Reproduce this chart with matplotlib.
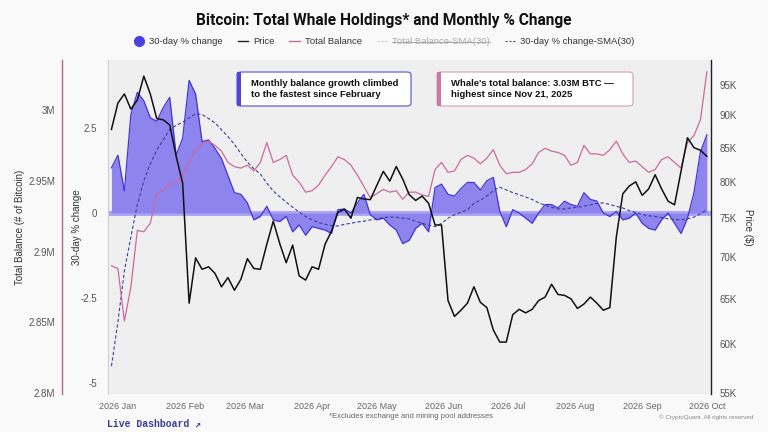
import pandas as pd
import matplotlib.pyplot as plt
from matplotlib.lines import Line2D
from matplotlib.patches import FancyBboxPatch, Rectangle
from matplotlib.ticker import FixedLocator, FixedFormatter, NullLocator
import matplotlib.dates as mdates

plt.rcParams['font.family'] = ['Liberation Sans', 'DejaVu Sans']

# data, one point every 3 days from 2025-12-29
dates = pd.date_range('2025-12-29', periods=93, freq='3D')

pct_change = [1.33, 1.7, 0.65, 2.9, 3.55, 3.3, 2.8, 2.7, 3.1, 3.4,
              1.7, 2.2, 3.9, 3.5, 2.1, 2.15, 1.9, 1.6, 1.1, 0.6,
              0.55, 0.3, -0.2, -0.1, 0.2, -0.2, -0.25, -0.1, -0.55, -0.35,
              -0.65, -0.4, -0.45, -0.5, -0.6, 0.1, 0.12, 0.0, 0.3, 0.55,
              -0.05, -0.2, -0.15, -0.35, -0.5, -0.9, -0.8, -0.45, -0.3, -0.55,
              0.75, 0.85, 0.55, 0.5, 0.72, 0.9, 0.9, 0.68, 0.95, 1.05,
              0.05, -0.4, 0.1, 0.0, -0.15, -0.3, 0.0, 0.25, 0.25, 0.15,
              0.35, 0.25, 0.2, 0.6, 0.4, 0.35, 0.0, -0.1, 0.05, -0.2,
              -0.15, 0.0, -0.3, -0.45, -0.5, -0.2, 0.0, -0.3, -0.6, -0.15,
              0.6, 1.8, 2.3]

pct_sma = [-4.5, -3.2, -1.7, -0.7, 0.25, 0.95, 1.45, 1.85, 2.15, 2.45,
           2.58, 2.67, 2.8, 2.92, 2.9, 2.78, 2.65, 2.45, 2.25, 2.02,
           1.75, 1.5, 1.3, 1.15, 0.88, 0.65, 0.48, 0.32, 0.17, 0.03,
           -0.1, -0.2, -0.28, -0.33, -0.37, -0.38, -0.33, -0.3, -0.26, -0.24,
           -0.2, -0.17, -0.13, -0.12, -0.12, -0.15, -0.17, -0.24, -0.3, -0.36,
           -0.4, -0.3, -0.15, -0.05, 0.02, 0.1, 0.28, 0.38, 0.5, 0.66,
           0.76, 0.68, 0.6, 0.54, 0.47, 0.4, 0.3, 0.23, 0.17, 0.12,
           0.12, 0.15, 0.17, 0.2, 0.24, 0.28, 0.3, 0.25, 0.2, 0.15,
           0.07, 0.02, -0.04, -0.08, -0.1, -0.13, -0.17, -0.19, -0.2, -0.17,
           -0.12, -0.02, 0.1]

# total balance, millions of BTC
balance = [2.890, 2.888, 2.851, 2.875, 2.915, 2.914, 2.920, 2.941, 2.943, 2.948,
           2.948, 2.954, 2.963, 2.972, 2.976, 2.978, 2.975, 2.971, 2.963, 2.960,
           2.959, 2.961, 2.957, 2.963, 2.977, 2.963, 2.965, 2.968, 2.954, 2.949,
           2.942, 2.943, 2.947, 2.954, 2.960, 2.967, 2.965, 2.961, 2.954, 2.946,
           2.938, 2.941, 2.944, 2.942, 2.943, 2.937, 2.942, 2.942, 2.940, 2.939,
           2.958, 2.963, 2.956, 2.957, 2.965, 2.968, 2.966, 2.962, 2.966, 2.972,
           2.961, 2.955, 2.956, 2.956, 2.958, 2.962, 2.970, 2.973, 2.971, 2.970,
           2.968, 2.961, 2.963, 2.975, 2.969, 2.969, 2.968, 2.972, 2.978, 2.969,
           2.963, 2.964, 2.960, 2.956, 2.958, 2.965, 2.967, 2.963, 2.959, 2.977,
           2.982, 2.993, 3.027]

# price, thousands of USD
price = [87.8, 92.0, 93.5, 91.0, 92.5, 96.5, 93.5, 89.5, 89.3, 88.5,
         83.7, 79.8, 64.5, 69.9, 68.5, 68.8, 68.0, 66.4, 67.5, 66.0,
         67.3, 69.8, 68.6, 68.5, 71.6, 74.6, 71.7, 69.3, 71.5, 67.7,
         67.2, 68.8, 68.5, 71.6, 73.3, 75.8, 76.2, 75.0, 77.8, 77.6,
         77.5, 79.5, 81.5, 80.1, 82.2, 80.4, 78.2, 77.4, 78.0, 77.0,
         74.1, 74.1, 64.8, 63.0, 63.7, 64.5, 66.4, 64.6, 64.0, 61.5,
         60.2, 60.2, 63.2, 63.8, 63.4, 63.8, 64.8, 65.2, 66.7, 65.5,
         65.4, 65.0, 63.9, 64.4, 65.2, 64.5, 63.7, 64.0, 72.5, 78.3,
         79.4, 80.0, 78.1, 79.0, 81.0, 79.0, 77.3, 76.8, 81.5, 86.5,
         85.0, 84.6, 83.7]

bal_ticks = [2.8, 2.85, 2.9, 2.95, 3.0]
bal_labels = ['2.8M', '2.85M', '2.9M', '2.95M', '3M']
pct_ticks = [-5, -2.5, 0, 2.5]
pct_labels = ['-5', '-2.5', '0', '2.5']
price_ticks = [55, 60, 65, 70, 75, 80, 85, 90, 95]
price_labels = ['55K', '60K', '65K', '70K', '75K', '80K', '85K', '90K', '95K']

FILL = '#8d84ee'
EDGE = '#4436d4'
PINK = '#cc6a9c'
TXT = '#555555'

W, H = 768, 432
fig = plt.figure(figsize=(W / 100, H / 100), dpi=100, facecolor='#f9f9f9')
ax = fig.add_axes([108 / W, 1 - 394 / H, 603 / W, 334 / H], facecolor='#efefef')

# 30-day % change
ax.axhline(0, color='#aaa4f2', lw=3.5, zorder=1)
ax.fill_between(dates, pct_change, 0, color=FILL, lw=0, zorder=2)
ax.plot(dates, pct_change, color=EDGE, lw=0.9, zorder=3)
ax.plot(dates, pct_sma, color='#3c3d9c', lw=0.8, ls=(0, (3, 2)), zorder=4)
ax.set_ylim(-5.32, 4.5)
ax.yaxis.set_major_locator(FixedLocator(pct_ticks))
ax.yaxis.set_major_formatter(FixedFormatter(pct_labels))
ax.tick_params(axis='y', length=0, pad=8, labelsize=7, labelcolor=TXT)

start = pd.Timestamp('2026-01-01')
ax.set_xlim(start - pd.Timedelta(days=4.6), start + pd.Timedelta(days=274.9))
ax.xaxis.set_major_locator(mdates.MonthLocator())
ax.xaxis.set_major_formatter(mdates.DateFormatter('%Y %b'))
ax.tick_params(axis='x', length=0, pad=6, labelsize=6.5, labelcolor='#666666')
for s in ['top', 'right', 'bottom']:
    ax.spines[s].set_visible(False)
ax.spines['left'].set_color('#d0d0d0')
ax.spines['left'].set_linewidth(0.8)

# total balance
ax_bal = ax.twinx()
ax_bal.plot(dates, balance, color=PINK, lw=0.9)
ax_bal.set_ylim(2.7995, 3.0353)
ax_bal.yaxis.tick_left()
ax_bal.yaxis.set_major_locator(FixedLocator(bal_ticks))
ax_bal.yaxis.set_major_formatter(FixedFormatter(bal_labels))
ax_bal.tick_params(axis='y', length=0, pad=5, labelsize=7, labelcolor=TXT)
for s in ['top', 'right', 'bottom']:
    ax_bal.spines[s].set_visible(False)
ax_bal.spines['left'].set_position(('outward', 33))
ax_bal.spines['left'].set_color('#b4648f')
ax_bal.spines['left'].set_linewidth(1.0)

# price
ax_px = ax.twinx()
ax_px.plot(dates, price, color='#111111', lw=1.1)
ax_px.set_yscale('log')
ax_px.set_ylim(54.9, 99.3)
ax_px.yaxis.set_major_locator(FixedLocator(price_ticks))
ax_px.yaxis.set_major_formatter(FixedFormatter(price_labels))
ax_px.yaxis.set_minor_locator(NullLocator())
ax_px.tick_params(axis='y', length=0, pad=6, labelsize=7, labelcolor=TXT)
for s in ['top', 'left', 'bottom']:
    ax_px.spines[s].set_visible(False)
ax_px.spines['right'].set_color('#222222')
ax_px.spines['right'].set_linewidth(1.0)

# axis titles
fig.text(20 / W, 1 - 227 / H, 'Total Balance (# of Bitcoin)', rotation=90,
         ha='center', va='center', fontsize=7, color='#333333')
fig.text(77 / W, 1 - 227 / H, '30-day % change', rotation=90,
         ha='center', va='center', fontsize=7, color='#333333')
fig.text(748 / W, 1 - 227 / H, 'Price ($)', rotation=270,
         ha='center', va='center', fontsize=7, color='#333333')

fig.text(0.5, 1 - 20 / H, 'Bitcoin: Total Whale Holdings* and Monthly % Change',
         ha='center', va='center', fontsize=11.2, fontweight='bold',
         family=['Roboto', 'DejaVu Sans'], color='#111111')

handles = [
    Line2D([], [], marker='o', ls='None', color='#4a3fe0', markersize=7),
    Line2D([], [], color='#222222', lw=1),
    Line2D([], [], color=PINK, lw=1),
    Line2D([], [], color='#c8c8c8', lw=0.8, ls=(0, (2, 1.5))),
    Line2D([], [], color='#555577', lw=0.8, ls=(0, (2, 1.5))),
]
labels = ['30-day % change', 'Price', 'Total Balance', 'Total Balance-SMA(30)',
          '30-day % change-SMA(30)']
leg = fig.legend(handles, labels, loc='center', bbox_to_anchor=(0.5, 1 - 42 / H),
                 ncol=5, frameon=False, fontsize=6.8, handlelength=1.1,
                 handletextpad=0.5, columnspacing=1.6)
for t in leg.get_texts():
    t.set_color('#333333')
leg.get_texts()[3].set_color('#aaaaaa')

# annotation boxes
def note(x0, x1, color, bar, text):
    y0, y1 = 1 - 106 / H, 1 - 72 / H
    fig.add_artist(FancyBboxPatch((x0 / W, y0), (x1 - x0) / W, y1 - y0,
                                  boxstyle='round,pad=0,rounding_size=0.006',
                                  transform=fig.transFigure, facecolor='white',
                                  edgecolor=color, lw=0.9, zorder=5))
    fig.add_artist(Rectangle((x0 / W, y0), 4 / W, y1 - y0, transform=fig.transFigure,
                             facecolor=bar, lw=0, zorder=6))
    fig.text((x0 + 14) / W, (y0 + y1) / 2, text, ha='left', va='center',
             fontsize=6.8, fontweight='bold', color='#111111', linespacing=1.3,
             zorder=7)

note(237, 411, '#6a60d8', '#5244d8',
     'Monthly balance growth climbed\nto the fastest since February')
note(437, 633, '#dba6bf', '#c97aa0',
     "Whale's total balance: 3.03M BTC \u2014\nhighest since Nov 21, 2025")

fig.text(411 / W, 1 - 416 / H, '*Excludes exchange and mining pool addresses',
         ha='center', va='center', fontsize=5.5, color='#666666')
fig.text(753 / W, 1 - 417 / H, '\u00a9 CryptoQuant. All rights reserved',
         ha='right', va='center', fontsize=4.5, color='#888888')
fig.text(107 / W, 1 - 424 / H, 'Live Dashboard \u2197', ha='left', va='center',
         fontsize=7, color='#3b3b94', fontweight='bold',
         family=['Liberation Mono', 'DejaVu Sans Mono'])

# strike through the hidden legend item
fig.canvas.draw()
bb = leg.get_texts()[3].get_window_extent().transformed(fig.transFigure.inverted())
ym = (bb.y0 + bb.y1) / 2
fig.add_artist(Line2D([bb.x0, bb.x1], [ym, ym], transform=fig.transFigure,
                      color='#aaaaaa', lw=0.7))

fig.savefig('out.png', dpi=100, facecolor=fig.get_facecolor())
